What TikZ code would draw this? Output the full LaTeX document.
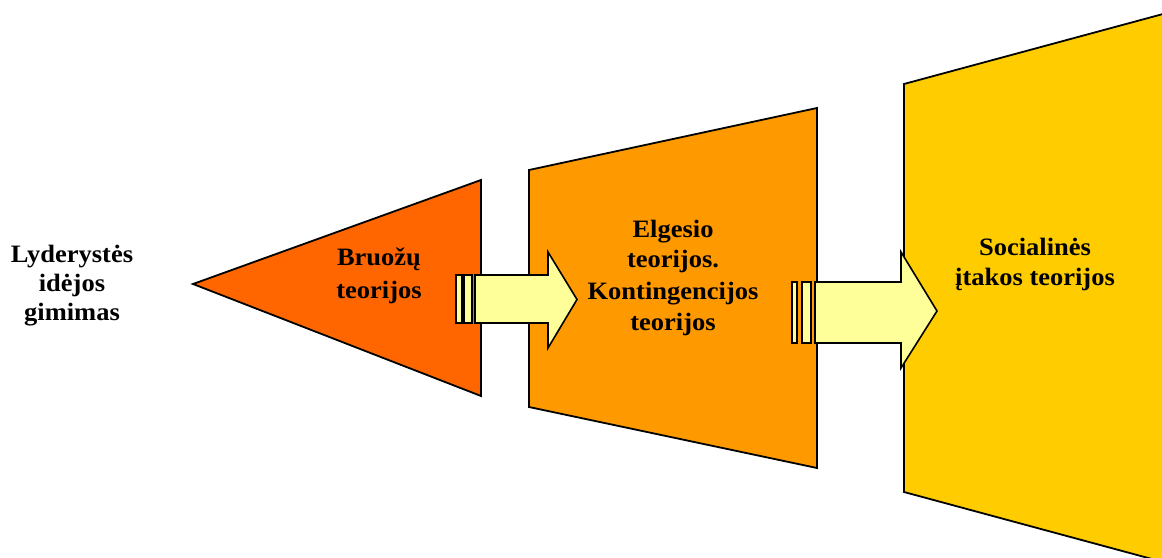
\documentclass[tikz,border=0pt]{standalone}
\usepackage{fontspec}
\setmainfont[FakeStretch=1.06]{Liberation Serif}
\begin{document}
\begin{tikzpicture}[x=1pt,y=-1pt,
  outline/.style={draw=black,line width=1.8pt,line join=miter},
  stage1/.style={outline,fill=stageA},
  stage2/.style={outline,fill=stageB},
  stage3/.style={outline,fill=stageC},
  blockarrow/.style={draw=black,line width=1.6pt,fill=arrowfill},
  lbl/.style={anchor=base,inner sep=0pt,font=\fontsize{25}{30}\selectfont\bfseries}]
\definecolor{stageA}{HTML}{FF6600}
\definecolor{stageB}{HTML}{FF9900}
\definecolor{stageC}{HTML}{FFCC00}
\definecolor{arrowfill}{HTML}{FFFF99}
\useasboundingbox (0,0) rectangle (1162,557);

% stage shapes
\draw[stage1] (193,284) -- (481,180) -- (481,396) -- cycle;
\draw[stage2] (529,170) -- (817,108) -- (817,468) -- (529,407) -- cycle;
\begin{scope}
  \clip (0,0) rectangle (1162,557);
  \draw[stage3] (904,84) -- (1200,4) -- (1200,572) -- (904,492) -- cycle;
\end{scope}

% first block arrow with its two bars
\draw[blockarrow] (456,275) rectangle (462,323);
\draw[blockarrow] (464,275) rectangle (472,323);
\draw[blockarrow] (475,275) -- (548,275) -- (548,252) -- (577,299.5)
  -- (548,348) -- (548,323) -- (475,323) -- cycle;

% second block arrow with its two bars
\draw[blockarrow] (792,282) rectangle (797,343);
\draw[blockarrow] (802,282) rectangle (811,343);
\draw[blockarrow] (815,282) -- (901,282) -- (901,252) -- (937,311)
  -- (901,368) -- (901,343) -- (815,343) -- cycle;

% labels
\node[lbl] (l1) at (72,262) {Lyderystės};
\node[lbl] (l2) at (72,291) {idėjos};
\node[lbl] (l3) at (72,320) {gimimas};

\node[lbl] (b1) at (379,265) {Bruožų};
\node[lbl] (b2) at (379,298) {teorijos};

\node[lbl] (e1) at (673,237) {Elgesio};
\node[lbl] (e2) at (673,267) {teorijos.};
\node[lbl] (e3) at (673,299) {Kontingencijos};
\node[lbl] (e4) at (673,330) {teorijos};

\node[lbl] (s1) at (1035,255) {Socialinės};
\node[lbl] (s2) at (1035,285) {įtakos teorijos};
\end{tikzpicture}
\end{document}
